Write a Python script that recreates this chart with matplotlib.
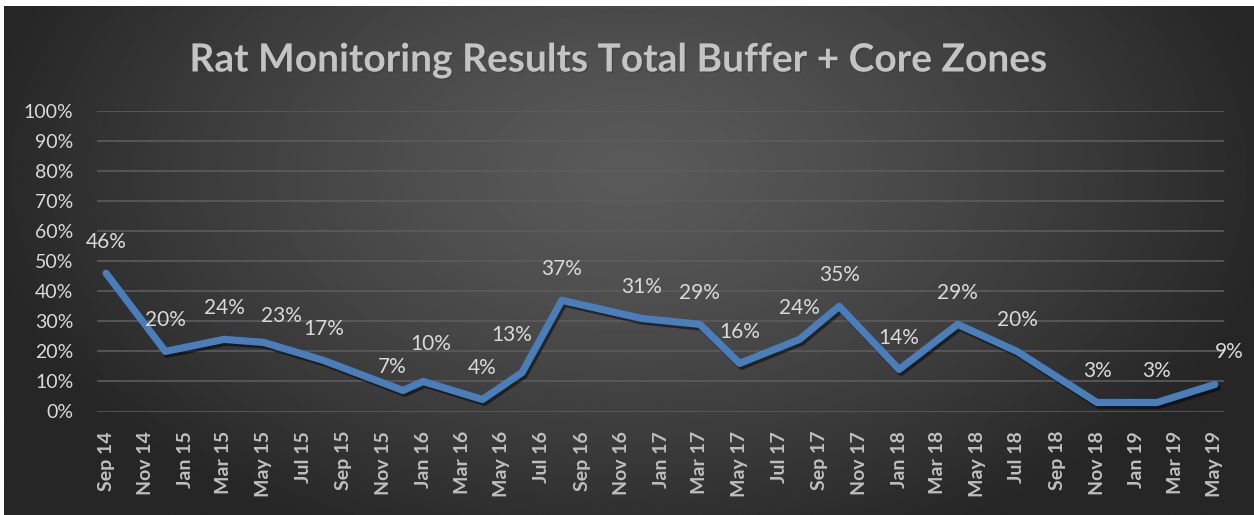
import numpy as np
import matplotlib
matplotlib.use("Agg")
import matplotlib.pyplot as plt
import matplotlib.dates as mdates
import matplotlib.patheffects as pe
import pandas as pd

# ---- data ----
dates = ["2014-09-01", "2014-12-01", "2015-03-01", "2015-05-01", "2015-08-01",
         "2015-12-01", "2016-01-01", "2016-04-01", "2016-06-01", "2016-08-01",
         "2016-12-01", "2017-03-01", "2017-05-01", "2017-08-01", "2017-10-01",
         "2018-01-01", "2018-04-01", "2018-07-01", "2018-11-01", "2019-02-01",
         "2019-05-01"]
values = [0.46, 0.20, 0.24, 0.23, 0.17, 0.07, 0.10, 0.04, 0.13, 0.37,
          0.31, 0.29, 0.16, 0.24, 0.35, 0.14, 0.29, 0.20, 0.03, 0.03, 0.09]
y_ticks = [0.0, 0.1, 0.2, 0.3, 0.4, 0.5, 0.6, 0.7, 0.8, 0.9, 1.0]
title = "Rat Monitoring Results Total Buffer + Core Zones"

x = pd.to_datetime(dates)

W, H = 1254, 515
fig = plt.figure(figsize=(W / 100, H / 100), dpi=100)
fig.patch.set_facecolor("white")

# background radial gradient
bg = fig.add_axes([4 / W, 0, (W - 4) / W, (H - 6) / H])
gx, gy = np.meshgrid(np.linspace(-1, 1, 600), np.linspace(-1, 1, 250))
cx, cy = 0.0, -0.35
r = np.sqrt(((gx - cx) / 1.05) ** 2 + ((gy - cy) / 1.6) ** 2)
r = np.clip(r, 0, 1)
light, dark = 0x5a / 255, 0x26 / 255
img = light + (dark - light) * r ** 1.3
bg.imshow(img, cmap="gray", vmin=0, vmax=1, aspect="auto",
          extent=[0, 1, 0, 1], origin="upper", interpolation="bilinear")
bg.axis("off")

ax = fig.add_axes([97 / W, (H - 411.5) / H, (1224 - 97) / W, 300.5 / H])
ax.patch.set_alpha(0)
for s in ax.spines.values():
    s.set_visible(False)

ax.plot(x, values, color="#4a7ebb", lw=5.2, solid_joinstyle="round",
        solid_capstyle="round", zorder=3,
        path_effects=[pe.SimpleLineShadow(offset=(1.5, -2), alpha=0.5, shadow_color="black"),
                      pe.Normal()])

ax.set_ylim(0, 1)
ax.set_yticks(y_ticks)
ax.set_yticklabels([f"{int(round(v * 100))}%" for v in y_ticks])
ax.yaxis.grid(True, color="#5c5c5c", lw=1.2)
ax.set_axisbelow(True)

start = pd.Timestamp("2014-09-01") - pd.Timedelta(days=14)
end = pd.Timestamp("2019-05-01") + pd.Timedelta(days=14)
ax.set_xlim(start, end)
ax.xaxis.set_major_locator(mdates.MonthLocator(bymonth=[1, 3, 5, 7, 9, 11]))
ax.xaxis.set_major_formatter(mdates.DateFormatter("%b %y"))

ax.tick_params(axis="y", length=0, pad=17, labelcolor="#d9d9d9", labelsize=14)
ax.tick_params(axis="x", length=0, pad=14, labelcolor="#bfbfbf", labelsize=14,
               labelrotation=90)
for lab in ax.get_yticklabels():
    lab.set_fontfamily("Lato")
for lab in ax.get_xticklabels():
    lab.set_fontfamily("Lato")
    lab.set_fontweight("bold")

# label placement tweaks in pixels (dx, dy above point); default is (0, 31)
tweaks = {3: (18, 26), 5: (-11, 23), 6: (8, 37), 8: (-10, 37), 20: (14, 32)}
for i, (xi, v) in enumerate(zip(x, values)):
    dx, dy = tweaks.get(i, (0, 31))
    ax.annotate(f"{int(round(v * 100))}%", (xi, v), xytext=(dx * 0.72, dy * 0.72),
                textcoords="offset points", ha="center", va="center",
                color="#d9d9d9", fontsize=15, family="Lato", zorder=4)

fig.text(618 / W, 1 - 60 / H, title, ha="center", va="center",
         color="#c4c4c4", fontsize=28, fontweight="bold", family="Lato",
         path_effects=[pe.withSimplePatchShadow(offset=(1, -1), alpha=0.5)])

fig.savefig("out.png", dpi=100, facecolor=fig.get_facecolor())
